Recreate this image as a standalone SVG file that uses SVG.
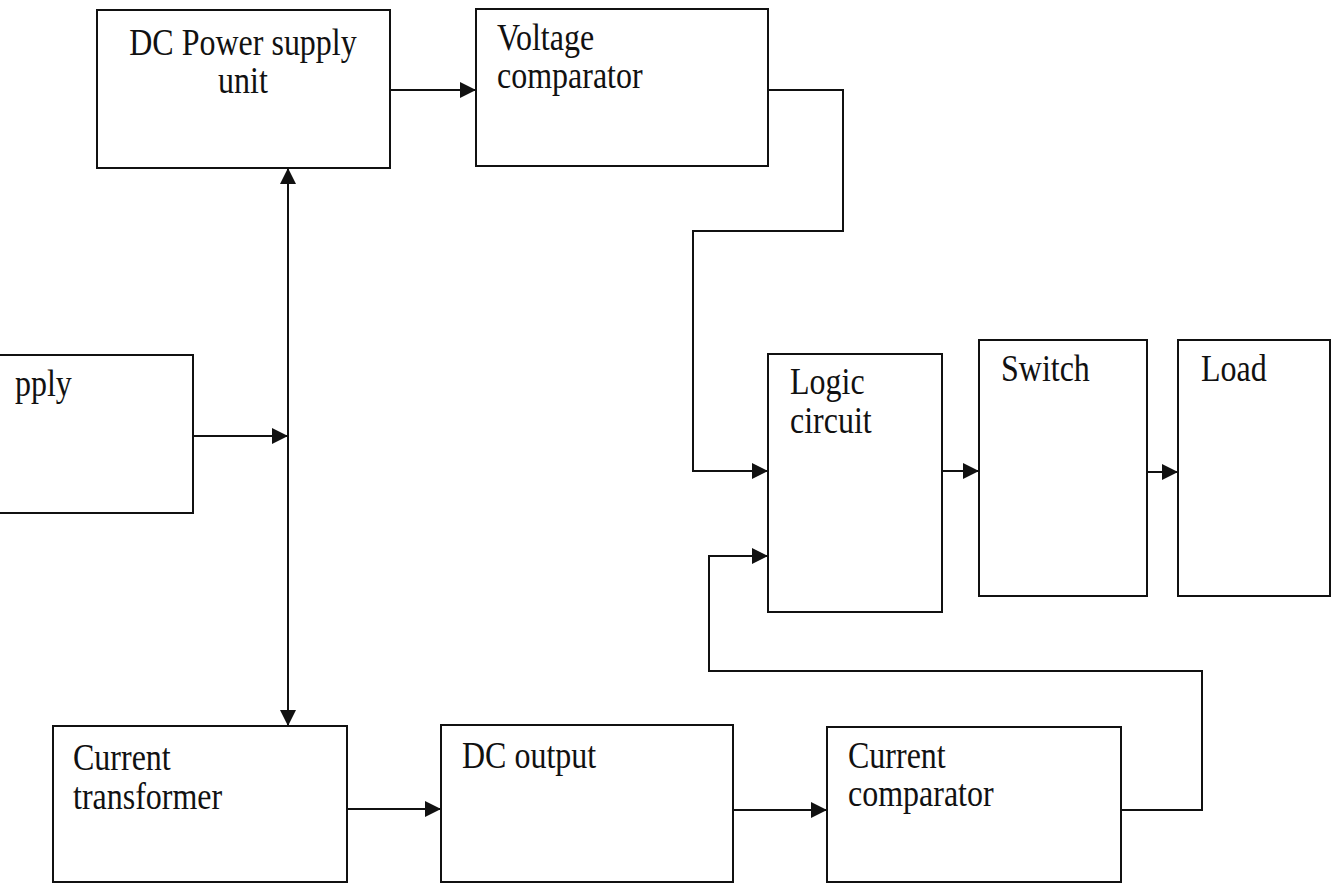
<svg xmlns="http://www.w3.org/2000/svg" width="1337" height="883" viewBox="0 0 1337 883">
<style>
.box{fill:#fff;stroke:#111;stroke-width:2}
.lbl{font-family:"Liberation Serif","Times New Roman",serif;font-size:32px;fill:#111}
.con{fill:none;stroke:#111;stroke-width:2}
</style>
<defs>
<marker id="arr" viewBox="0 0 16 16" refX="16" refY="8" markerWidth="16" markerHeight="16" markerUnits="userSpaceOnUse" orient="auto-start-reverse">
<path d="M0,0 L16,8 L0,16 z" fill="#111"/>
</marker>
</defs>
<rect width="1337" height="883" fill="#fff"/>
<g id="connectors">
<path class="con" d="M390,90 H476" marker-end="url(#arr)"/>
<path class="con" d="M768,90 H843 V231 H693 V471 H768" marker-end="url(#arr)"/>
<path class="con" d="M193,436 H288" marker-end="url(#arr)"/>
<path class="con" d="M288,168 V726" marker-start="url(#arr)" marker-end="url(#arr)"/>
<path class="con" d="M347,809 H441" marker-end="url(#arr)"/>
<path class="con" d="M733,810 H827" marker-end="url(#arr)"/>
<path class="con" d="M1121,810 H1202 V671 H709 V556 H768" marker-end="url(#arr)"/>
<path class="con" d="M942,471 H979" marker-end="url(#arr)"/>
<path class="con" d="M1147,472 H1178" marker-end="url(#arr)"/>
</g>
<g id="dc-power-supply">
<rect class="box" x="97" y="10" width="293" height="158"/>
<text class="lbl" transform="translate(243,55) scale(1,1.18)" text-anchor="middle">DC Power supply</text>
<text class="lbl" transform="translate(243,93) scale(1,1.18)" text-anchor="middle">unit</text>
</g>
<g id="voltage-comparator">
<rect class="box" x="476" y="9" width="292" height="157"/>
<text class="lbl" transform="translate(497,50) scale(1,1.18)">Voltage</text>
<text class="lbl" transform="translate(497,88) scale(1,1.18)">comparator</text>
</g>
<g id="supply">
<rect class="box" x="-10" y="355" width="203" height="158"/>
<text class="lbl" transform="translate(15,396) scale(1,1.18)">pply</text>
</g>
<g id="logic-circuit">
<rect class="box" x="768" y="354" width="174" height="258"/>
<text class="lbl" transform="translate(790,394) scale(1,1.18)">Logic</text>
<text class="lbl" transform="translate(790,433) scale(1,1.18)">circuit</text>
</g>
<g id="switch">
<rect class="box" x="979" y="340" width="168" height="256"/>
<text class="lbl" transform="translate(1001,381) scale(1,1.18)">Switch</text>
</g>
<g id="load">
<rect class="box" x="1178" y="340" width="152" height="256"/>
<text class="lbl" transform="translate(1201,381) scale(1,1.18)">Load</text>
</g>
<g id="current-transformer">
<rect class="box" x="53" y="726" width="294" height="156"/>
<text class="lbl" transform="translate(73,770) scale(1,1.18)">Current</text>
<text class="lbl" transform="translate(73,809) scale(1,1.18)">transformer</text>
</g>
<g id="dc-output">
<rect class="box" x="441" y="725" width="292" height="157"/>
<text class="lbl" transform="translate(462,768) scale(1,1.18)">DC output</text>
</g>
<g id="current-comparator">
<rect class="box" x="827" y="727" width="294" height="155"/>
<text class="lbl" transform="translate(848,768) scale(1,1.18)">Current</text>
<text class="lbl" transform="translate(848,806) scale(1,1.18)">comparator</text>
</g>
</svg>
